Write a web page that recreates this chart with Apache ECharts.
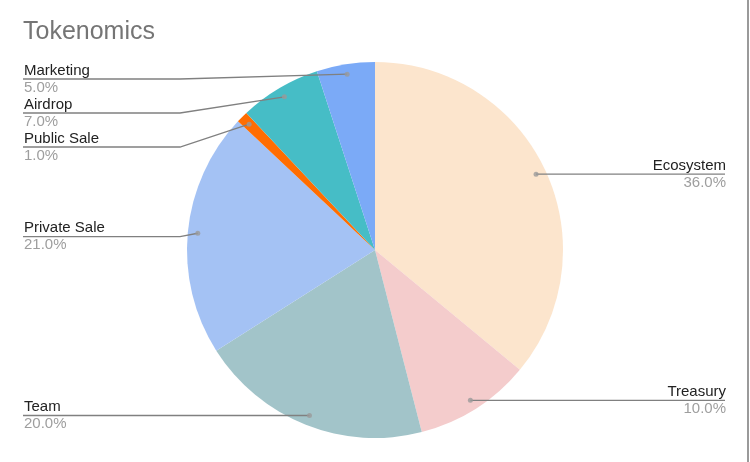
<!DOCTYPE html>
<html>
<head>
<meta charset="utf-8">
<script src="https://cdn.jsdelivr.net/npm/echarts@6/dist/echarts.min.js"></script>
<style>
html,body{margin:0;padding:0;background:#fff;}
#c{width:750px;height:462px;}
#edge{position:absolute;left:747px;top:0;width:2px;height:462px;background:#9a9a9a;}
</style>
</head>
<body>
<div id="c"></div>
<div id="edge"></div>
<script>
var categories = ['Ecosystem', 'Treasury', 'Team', 'Private Sale', 'Public Sale', 'Airdrop', 'Marketing'];
var values = [36, 10, 20, 21, 1, 7, 5];
var colors = ['#fce5cd', '#f4cccc', '#a2c4c9', '#a4c2f4', '#ff6d01', '#46bdc6', '#7baaf7'];

var total = values.reduce(function (a, b) { return a + b; }, 0);
var pieData = categories.map(function (n, i) {
  return { name: n, value: values[i], itemStyle: { color: colors[i] } };
});
var labelData = categories.map(function (n, i) {
  return { name: n, value: values[i] };
});
// dots at the middle of each slice (polar scatter through the angle axis)
var dotData = [];
var acc = 0;
for (var i = 0; i < values.length; i++) {
  dotData.push([178, acc + values[i] / 2]);
  acc += values[i];
}

var W = 750, EDGE_L = 23, EDGE_R = 25, CX = 375, R = 188, BEND = 7;
var chart = echarts.init(document.getElementById('c'), null, { renderer: 'canvas' });
chart.setOption({
  animation: false,
  backgroundColor: '#ffffff',
  title: {
    text: 'Tokenomics',
    left: 18, top: 15,
    textStyle: { fontFamily: 'Liberation Sans, Arial, sans-serif', fontSize: 25, fontWeight: 'normal', color: '#757575' }
  },
  polar: { center: [375, 250], radius: 188 },
  angleAxis: { type: 'value', min: 0, max: total, startAngle: 90, clockwise: true, show: false },
  radiusAxis: { type: 'value', min: 0, max: 188, show: false },
  series: [
    {
      type: 'pie',
      center: [375, 250],
      radius: [0, 188],
      startAngle: 90,
      clockwise: true,
      silent: true,
      label: { show: false },
      labelLine: { show: false },
      itemStyle: { borderWidth: 0 },
      data: pieData,
      z: 1
    },
    {
      type: 'pie',
      left: 0, right: 0, top: 62, bottom: 0,
      center: [375, 188],
      radius: [0, 178],
      startAngle: 90,
      clockwise: true,
      silent: true,
      itemStyle: { color: 'rgba(0,0,0,0)', borderWidth: 0 },
      label: {
        show: true,
        position: 'outer',
        alignTo: 'edge',
        edgeDistance: 24,
        distanceToLabelLine: 0,
        formatter: function (p) { return '{n|' + p.name + '}\n{v|' + p.value.toFixed(1) + '%}'; },
        rich: {
          n: { fontFamily: 'Liberation Sans, Arial, sans-serif', fontSize: 15, color: '#222222', lineHeight: 17 },
          v: { fontFamily: 'Liberation Sans, Arial, sans-serif', fontSize: 15, color: '#9e9e9e', lineHeight: 17 }
        }
      },
      labelLine: {
        show: true,
        length: 0,
        length2: 10,
        lineStyle: { color: '#808080', width: 1.3 }
      },
      labelLayout: function (params) {
        var pts = params.labelLinePoints;
        if (!pts || !pts.length) return {};
        var r = params.labelRect;
        var isLeft = (r.x + r.width / 2) < CX;
        var start = pts[0];
        var y = pts[pts.length - 1][1];
        var bx = isLeft ? Math.min(start[0], CX - R - BEND) : Math.max(start[0], CX + R + BEND);
        var out = [[start[0], start[1]], [bx, y], [isLeft ? EDGE_L : W - EDGE_R, y]];
        return { labelLinePoints: out };
      },
      data: labelData,
      z: 3
    },
    {
      type: 'scatter',
      coordinateSystem: 'polar',
      symbol: 'circle',
      symbolSize: 5,
      itemStyle: { color: '#9a9a9a' },
      silent: true,
      data: dotData,
      z: 4
    }
  ]
});
</script>
</body>
</html>
